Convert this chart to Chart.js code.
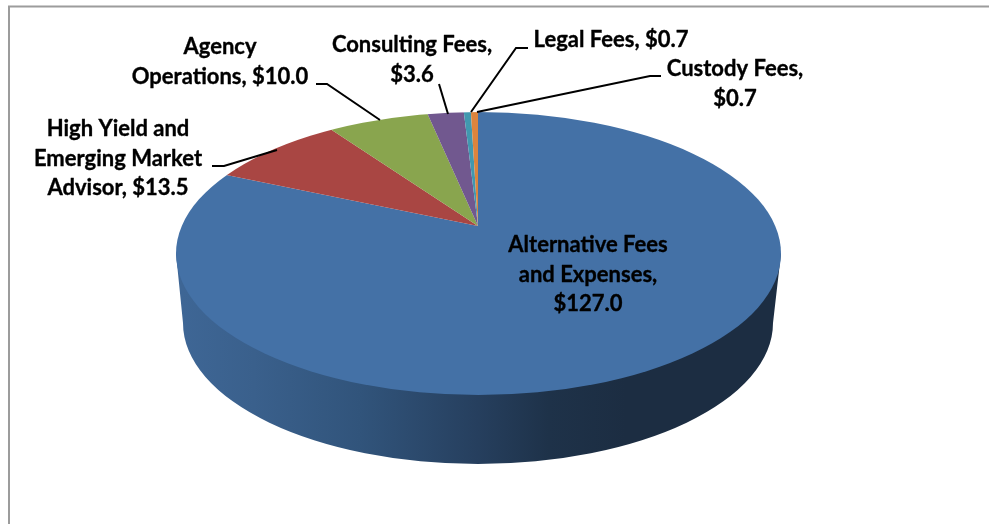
<!DOCTYPE html>
<html><head><meta charset="utf-8">
<script src="https://cdn.jsdelivr.net/npm/chart.js@4"></script>
<style>html,body{margin:0;padding:0;background:#fff}#w{width:989px;height:524px;position:relative}</style>
</head><body><div id="w"><canvas id="c" width="989" height="524"></canvas></div>
<script>
const categories = ["Alternative Fees and Expenses","High Yield and Emerging Market Advisor","Agency Operations","Consulting Fees","Legal Fees","Custody Fees"];
const values = [127.0,13.5,10.0,3.6,0.7,0.7];
const colors = ["#4471A6","#A94643","#89A54E","#71588F","#4198AF","#DB843D"];
const labelLines = [
  ["Alternative Fees","and Expenses,","$127.0"],
  ["High Yield and","Emerging Market","Advisor, $13.5"],
  ["Agency","Operations, $10.0"],
  ["Consulting Fees,","$3.6"],
  ["Legal Fees, $0.7"],
  ["Custody Fees,","$0.7"]
];
const labelAnchors = [[588,252],[118,136],[220,54],[412,52],[611,47],[735,76]];
const leaders = [null,[[212,166],[224,166],[277,150]],[[316,84],[327,84],[380,120]],[[439,84],[448,114]],[[528,48],[516,48],[471,112]],[[661,76],[650,76],[477,112]]];
const FONT = 'bold 22px Lato';
const LINE_H = 29.7;
const TILT = 0.455;
const TOP = {cx:478.5, cy:253.5, rx:302.5, ry:141.5};
const BASE = {cx:478, cy:323, rx:295, ry:141};

const pie3d = {
  id:'pie3d',
  beforeDatasetsDraw(chart){
    const ctx = chart.ctx;
    ctx.save();
    ctx.strokeStyle='#9c9c9c'; ctx.lineWidth=2;
    ctx.beginPath(); ctx.moveTo(9,524); ctx.lineTo(9,6.5); ctx.lineTo(989,6.5); ctx.stroke();
    const g = ctx.createLinearGradient(BASE.cx-BASE.rx,0,BASE.cx+BASE.rx,0);
    g.addColorStop(0,'#3E6695'); g.addColorStop(0.12,'#3A608C'); g.addColorStop(0.3,'#31547B');
    g.addColorStop(0.5,'#263F5E'); g.addColorStop(0.62,'#1E3249'); g.addColorStop(0.75,'#1C2D42'); g.addColorStop(1,'#1C2D42');
    ctx.fillStyle=g;
    ctx.beginPath();
    ctx.moveTo(TOP.cx-TOP.rx,TOP.cy);
    ctx.lineTo(BASE.cx-BASE.rx,BASE.cy);
    ctx.ellipse(BASE.cx,BASE.cy,BASE.rx,BASE.ry,0,Math.PI,0,true);
    ctx.lineTo(TOP.cx+TOP.rx,TOP.cy);
    ctx.closePath(); ctx.fill();
    ctx.restore();
    const arc = chart.getDatasetMeta(0).data[0];
    ctx.save();
    ctx.beginPath(); ctx.ellipse(TOP.cx,TOP.cy,TOP.rx,TOP.ry,0,0,Math.PI*2); ctx.clip();
    ctx.translate(arc.x,arc.y); ctx.scale(1,TILT); ctx.translate(-arc.x,-arc.y);
  },
  afterDatasetsDraw(chart){
    const ctx = chart.ctx;
    ctx.restore();
    ctx.save();
    ctx.strokeStyle='#000'; ctx.lineWidth=2; ctx.lineJoin='miter';
    leaders.forEach(l=>{ if(!l) return; ctx.beginPath(); l.forEach((p,i)=> i?ctx.lineTo(p[0],p[1]):ctx.moveTo(p[0],p[1])); ctx.stroke(); });
    ctx.fillStyle='#000'; ctx.font=FONT; ctx.textAlign='center'; ctx.textBaseline='alphabetic';
    ctx.lineWidth=0.35; ctx.lineJoin='round';
    labelLines.forEach((ls,i)=> ls.forEach((t,j)=>{ const x=labelAnchors[i][0], y=labelAnchors[i][1]+j*LINE_H; ctx.fillText(t,x,y); ctx.strokeText(t,x,y); }));
    ctx.restore();
  }
};
new Chart(document.getElementById('c'),{
  type:'pie',
  data:{labels:categories,datasets:[{data:values,backgroundColor:colors,borderWidth:0,radius:430,clip:false,hoverOffset:0}]},
  options:{responsive:false,animation:false,events:[],
    layout:{padding:{left:0,right:33,top:0,bottom:72}},
    plugins:{legend:{display:false},tooltip:{enabled:false},title:{display:false}}},
  plugins:[pie3d]
});
</script></body></html>
